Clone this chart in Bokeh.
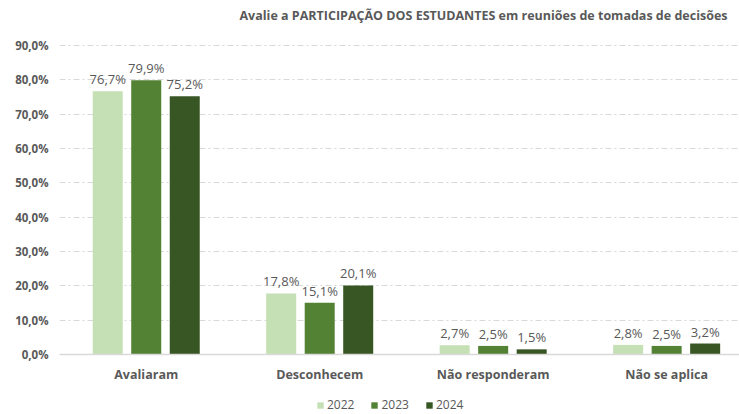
from bokeh.plotting import figure
from bokeh.models import (ColumnDataSource, Range1d, FixedTicker, Legend, LegendItem,
                          LabelSet, Label, Span)
from bokeh.core.properties import value
from bokeh.transform import dodge
from bokeh.embed import file_html
from bokeh.resources import INLINE

title_text = "Avalie a PARTICIPAÇÃO DOS ESTUDANTES em reuniões de tomadas de decisões"
categories = ["Avaliaram", "Desconhecem", "Não responderam", "Não se aplica"]
years = ["2022", "2023", "2024"]
v2022 = [76.7, 17.8, 2.7, 2.8]
v2023 = [79.9, 15.1, 2.5, 2.5]
v2024 = [75.2, 20.1, 1.5, 3.2]
y_ticks = [0, 10, 20, 30, 40, 50, 60, 70, 80, 90]
colors = ["#C5E0B4", "#548235", "#375623"]

GRAY = "#595959"
FONT = "Open Sans"

def pct(v):
    return f"{v:.1f}%".replace(".", ",")

xc = [i + 0.5 for i in range(len(categories))]
series = [v2022, v2023, v2024]
data = {"x": xc}
for y, vals in zip(years, series):
    data["v" + y] = vals
    data["t" + y] = [pct(v) for v in vals]
source = ColumnDataSource(data)
cat_source = ColumnDataSource({"x": xc, "y": [0] * len(xc), "label": categories})

# frame fills the page; 0..90 occupies pixels 354..45
FRAME_H = 414
PX_PER_UNIT = 309 / 90
y_top = 90 + 45 / PX_PER_UNIT
y_bottom = -(FRAME_H - 354) / PX_PER_UNIT

p = figure(frame_width=680, frame_height=FRAME_H, output_backend="svg", toolbar_location=None,
           x_range=Range1d(0, 3.92), y_range=Range1d(y_bottom, y_top),
           min_border_left=59, min_border_right=0, min_border_top=0, min_border_bottom=0)
p.outline_line_color = None
p.background_fill_color = "white"
p.border_fill_color = "white"
p.xaxis.visible = False

p.ygrid.ticker = FixedTicker(ticks=y_ticks)
p.xgrid.visible = False
p.ygrid.grid_line_color = "#D9D9D9"
p.ygrid.grid_line_dash = "6 3 2 3"
p.ygrid.grid_line_width = 1

p.add_layout(Span(location=0, dimension="width", line_color="#D9D9D9", line_width=1.5))

offsets = [-0.222, 0.0, 0.222]
items = []
for y, off, c in zip(years, offsets, colors):
    r = p.vbar(x=dodge("x", off, range=p.x_range), top="v" + y, bottom=0, width=0.173,
               source=source, fill_color=c, line_color=None)
    items.append(LegendItem(label=y, renderers=[r]))
    lab = LabelSet(x=dodge("x", off, range=p.x_range), y="v" + y, text="t" + y,
                   source=source, text_align="center", text_baseline="bottom",
                   y_offset=3, text_font=value(FONT), text_font_size=value("13px"),
                   text_color=GRAY)
    p.add_layout(lab)

# category labels under the baseline
p.add_layout(LabelSet(x="x", y="y", text="label", source=cat_source,
                      text_align="center", text_baseline="middle", y_offset=-20,
                      text_font=value(FONT), text_font_size=value("12.5px"),
                      text_font_style="bold", text_color=GRAY))

# title
p.add_layout(Label(x=668, y=FRAME_H - 15, x_units="screen", y_units="screen",
                   text=title_text, text_align="right", text_baseline="middle",
                   text_font=FONT, text_font_size="12.5px", text_font_style="bold",
                   text_color=GRAY))

# y axis
p.yaxis.ticker = FixedTicker(ticks=y_ticks)
p.yaxis.major_label_overrides = {t: pct(t) for t in y_ticks}
p.yaxis.major_label_text_font = FONT
p.yaxis.major_label_text_font_size = "11.5px"
p.yaxis.major_label_text_font_style = "bold"
p.yaxis.major_label_text_color = GRAY
p.yaxis.major_label_standoff = 5
p.yaxis.axis_line_color = None
p.yaxis.major_tick_line_color = None
p.yaxis.minor_tick_line_color = None

legend = Legend(items=items, orientation="horizontal", location=(257, 1),
                glyph_width=8, glyph_height=8, label_standoff=3, spacing=16,
                label_height=16, label_text_font=FONT, label_text_font_size="12px",
                label_text_color=GRAY, border_line_color=None,
                background_fill_alpha=0, padding=0, margin=0)
p.add_layout(legend, "center")

open("out.html", "w").write(file_html(p, INLINE))
